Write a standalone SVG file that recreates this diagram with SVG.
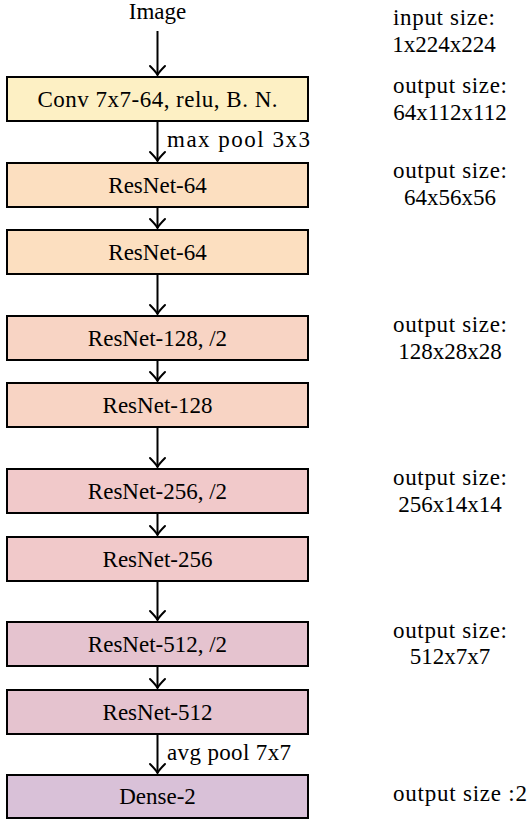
<svg xmlns="http://www.w3.org/2000/svg" width="531" height="820" viewBox="0 0 531 820">
  <style>
    text { font-family: 'Liberation Serif', 'Times New Roman', Times, 'DejaVu Serif', serif; font-size: 23px; font-style: normal; }
    .c { text-anchor: middle; }
    .box { stroke: #000; stroke-width: 2; }
    .conv { fill: #FDF0C4; }
    .r64 { fill: #FCDFC0; }
    .r128 { fill: #F8D4C4; }
    .r256 { fill: #F1C9CA; }
    .r512 { fill: #E5C3CF; }
    .dense { fill: #D9C1D8; }
    .arrow { stroke: #000; stroke-width: 2; fill: none; }
  </style>
  <defs>
    <marker id="ah" markerUnits="userSpaceOnUse" viewBox="-12 -10 14 20" refX="0" refY="0" markerWidth="14" markerHeight="20" orient="auto" overflow="visible">
      <path d="M-9,-7.5 Q-3,-1.5 0,0 Q-3,1.5 -9,7.5" fill="none" stroke="#000" stroke-width="2" stroke-linecap="round" stroke-linejoin="round"/>
    </marker>
  </defs>

  <g id="connectors">
    <line class="arrow" x1="157.5" y1="31" x2="157.5" y2="75" marker-end="url(#ah)"/>
    <line class="arrow" x1="157.5" y1="122" x2="157.5" y2="161" marker-end="url(#ah)"/>
    <line class="arrow" x1="157.5" y1="208" x2="157.5" y2="228" marker-end="url(#ah)"/>
    <line class="arrow" x1="157.5" y1="275" x2="157.5" y2="314" marker-end="url(#ah)"/>
    <line class="arrow" x1="157.5" y1="361" x2="157.5" y2="381" marker-end="url(#ah)"/>
    <line class="arrow" x1="157.5" y1="428" x2="157.5" y2="467" marker-end="url(#ah)"/>
    <line class="arrow" x1="157.5" y1="514" x2="157.5" y2="535" marker-end="url(#ah)"/>
    <line class="arrow" x1="157.5" y1="581" x2="157.5" y2="620" marker-end="url(#ah)"/>
    <line class="arrow" x1="157.5" y1="667" x2="157.5" y2="688" marker-end="url(#ah)"/>
    <line class="arrow" x1="157.5" y1="734" x2="157.5" y2="773" marker-end="url(#ah)"/>
    <text x="167" y="147" textLength="143" lengthAdjust="spacing">max pool 3x3</text>
    <text x="167" y="760" textLength="124" lengthAdjust="spacing">avg pool 7x7</text>
  </g>

  <g id="image">
    <text class="c" x="157.5" y="18.5">Image</text>
  </g>

  <g id="conv">
    <rect class="box conv" x="7" y="77" width="301" height="44"/>
    <text class="c" x="157.5" y="106.5" textLength="240" lengthAdjust="spacing">Conv 7x7-64, relu, B. N.</text>
  </g>
  <g id="resnet64a">
    <rect class="box r64" x="7" y="163" width="301" height="44"/>
    <text class="c" x="157.5" y="192.5">ResNet-64</text>
  </g>
  <g id="resnet64b">
    <rect class="box r64" x="7" y="230" width="301" height="44"/>
    <text class="c" x="157.5" y="259.5">ResNet-64</text>
  </g>
  <g id="resnet128a">
    <rect class="box r128" x="7" y="316" width="301" height="44"/>
    <text class="c" x="157.5" y="345.5">ResNet-128, /2</text>
  </g>
  <g id="resnet128b">
    <rect class="box r128" x="7" y="383" width="301" height="44"/>
    <text class="c" x="157.5" y="412.5">ResNet-128</text>
  </g>
  <g id="resnet256a">
    <rect class="box r256" x="7" y="469" width="301" height="44"/>
    <text class="c" x="157.5" y="498.5">ResNet-256, /2</text>
  </g>
  <g id="resnet256b">
    <rect class="box r256" x="7" y="537" width="301" height="44"/>
    <text class="c" x="157.5" y="566.5">ResNet-256</text>
  </g>
  <g id="resnet512a">
    <rect class="box r512" x="7" y="622" width="301" height="44"/>
    <text class="c" x="157.5" y="651.5">ResNet-512, /2</text>
  </g>
  <g id="resnet512b">
    <rect class="box r512" x="7" y="690" width="301" height="44"/>
    <text class="c" x="157.5" y="719.5">ResNet-512</text>
  </g>
  <g id="dense">
    <rect class="box dense" x="7" y="775" width="301" height="43"/>
    <text class="c" x="157.5" y="803.5">Dense-2</text>
  </g>

  <g id="size-input">
    <text class="c" x="444" y="25" textLength="102" lengthAdjust="spacing">input size:</text>
    <text class="c" x="444" y="52">1x224x224</text>
  </g>
  <g id="size-conv">
    <text class="c" x="450" y="93" textLength="114" lengthAdjust="spacing">output size:</text>
    <text class="c" x="450" y="120">64x112x112</text>
  </g>
  <g id="size-64">
    <text class="c" x="450" y="178" textLength="114" lengthAdjust="spacing">output size:</text>
    <text class="c" x="450" y="205">64x56x56</text>
  </g>
  <g id="size-128">
    <text class="c" x="450" y="332" textLength="114" lengthAdjust="spacing">output size:</text>
    <text class="c" x="450" y="359">128x28x28</text>
  </g>
  <g id="size-256">
    <text class="c" x="450" y="485" textLength="114" lengthAdjust="spacing">output size:</text>
    <text class="c" x="450" y="512">256x14x14</text>
  </g>
  <g id="size-512">
    <text class="c" x="450" y="638" textLength="114" lengthAdjust="spacing">output size:</text>
    <text class="c" x="450" y="664">512x7x7</text>
  </g>
  <g id="size-dense">
    <text x="393" y="801" textLength="134" lengthAdjust="spacing">output size :2</text>
  </g>
</svg>
